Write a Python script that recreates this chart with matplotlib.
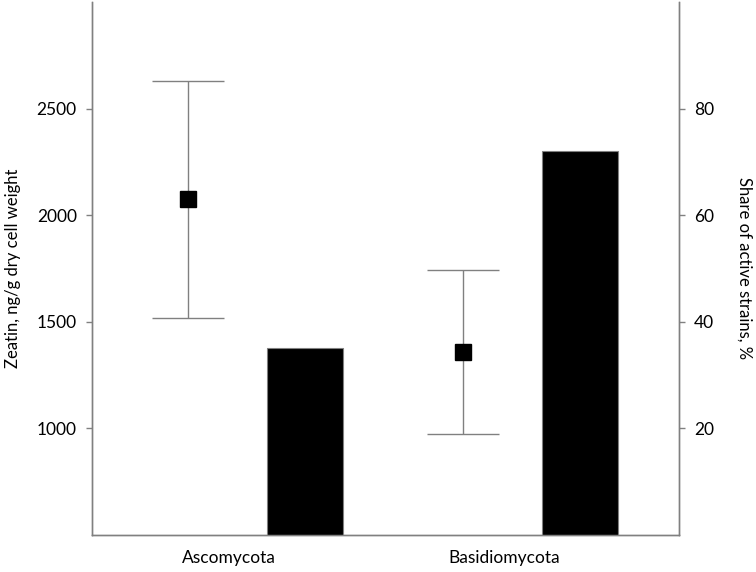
import matplotlib
matplotlib.use("Agg")
import matplotlib.pyplot as plt

# data
groups = ["Ascomycota", "Basidiomycota"]
zeatin_mean = [2075, 1360]      # ng/g dry cell weight
zeatin_err = [555, 385]
active_share = [35, 72]         # % of active strains

plt.rcParams['font.family'] = ['Lato', 'DejaVu Sans']
grey = '#808080'

fig = plt.figure(figsize=(7.56, 5.72), dpi=100)
ax = fig.add_axes([92 / 756, 37 / 572, 587 / 756, 533 / 572])
ax2 = ax.twinx()

x = list(range(len(groups)))
point_shift = -0.149
bar_shift = 0.276
bar_width = 0.276

# zeatin points with error bars (left axis)
ax.errorbar([i + point_shift for i in x], zeatin_mean, yerr=zeatin_err,
            fmt='s', color='black', markersize=11, ecolor=grey,
            elinewidth=1, capsize=26, capthick=1, zorder=3)

# share of active strains (right axis)
ax2.bar([i + bar_shift for i in x], active_share, width=bar_width,
        color='black', edgecolor=grey, linewidth=0.8)

ax.set_xlim(-0.498, 1.636)
ax.set_ylim(500, 3000)
ax2.set_ylim(0, 100)

ax.set_yticks([1000, 1500, 2000, 2500])
ax2.set_yticks([20, 40, 60, 80])
ax.set_xticks(x)
ax.set_xticklabels(groups)

for a in (ax, ax2):
    for s in a.spines.values():
        s.set_color(grey)
        s.set_linewidth(1)
    a.spines['top'].set_visible(False)
    a.tick_params(axis='y', colors=grey, length=4, width=1, labelsize=12.5,
                  labelcolor='black', pad=7)
ax.tick_params(axis='x', length=0, labelsize=12.5, pad=11)

ax.set_ylabel("Zeatin, ng/g dry cell weight", fontsize=12, labelpad=11)
ax2.set_ylabel("Share of active strains, %", fontsize=12, rotation=270,
               labelpad=27)

fig.savefig("out.png", dpi=100)
